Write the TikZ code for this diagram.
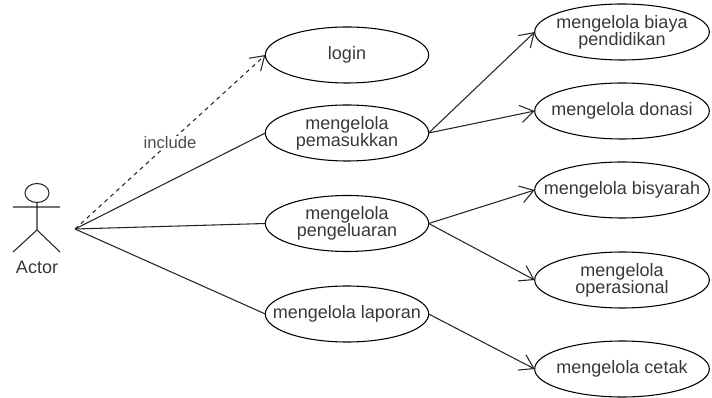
\documentclass[tikz,border=0pt]{standalone}
\usepackage{fontspec}
\setmainfont{Liberation Sans}
\usetikzlibrary{shapes.geometric,arrows.meta}
\tikzset{ucl/.style={draw,ellipse,line width=0.8pt,minimum width=122.5pt,minimum height=42pt,inner xsep=-24pt,inner ysep=-4pt,outer sep=0pt,align=center,font=\fontsize{13.5pt}{12.75pt}\selectfont,text=black!78},
ucr/.style={ucl,minimum width=131pt,minimum height=42pt},
conn/.style={line width=0.8pt,black!85},
barb/.style={-{Straight Barb[length=10pt,width=13pt]}}}
\begin{document}
\begin{tikzpicture}[x=0.75pt,y=-0.75pt]
\useasboundingbox (0,0) rectangle (712,398);
\node[ucl] (login) at (347,55) {login};
\node[ucl] (mas) at (347,133) {mengelola\\pemasukkan};
\node[ucl] (kel) at (347,223.5) {mengelola\\pengeluaran};
\node[ucl] (lap) at (347,314) {mengelola laporan};
\node[ucr] (bia) at (622,32) {mengelola biaya\\pendidikan};
\node[ucr] (don) at (622,111) {mengelola donasi};
\node[ucr] (bis) at (622,190) {mengelola bisyarah};
\node[ucr] (ope) at (622,280) {mengelola\\operasional};
\node[ucr] (cet) at (622,369) {mengelola cetak};
\coordinate (hand) at (75,229);
\draw[conn] (37,193) ellipse (12 and 9.5);
\draw[conn] (37,202.5) -- (37,230) (13,207) -- (60,207) (37,230) -- (13,252) (37,230) -- (60,252);
\node[font=\fontsize{13.5pt}{14pt}\selectfont,text=black!78] (actor) at (37,267) {Actor};
\draw[conn,dashed,barb] (hand) -- (login.west);
\node[font=\fontsize{12.5pt}{14pt}\selectfont,fill=white,inner sep=1pt,text=black!70] (inc) at (170,143) {include};
\draw[conn] (hand) -- (mas.west);
\draw[conn] (hand) -- (kel.west);
\draw[conn] (hand) -- (lap.west);
\draw[conn,barb] (mas.east) -- (bia.west);
\draw[conn,barb] (mas.east) -- (don.west);
\draw[conn,barb] (kel.east) -- (bis.west);
\draw[conn,barb] (kel.east) -- (ope.west);
\draw[conn,barb] (lap.east) -- (cet.west);
\end{tikzpicture}
\end{document}
